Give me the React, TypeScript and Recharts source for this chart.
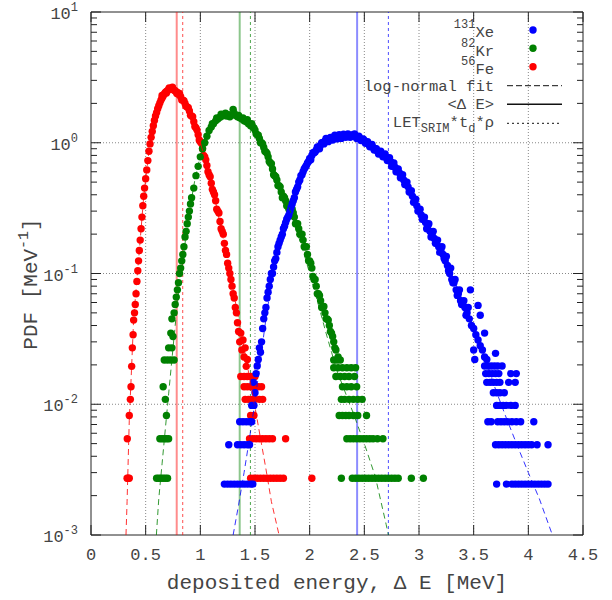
import { ScatterChart, Scatter, XAxis, YAxis, ReferenceLine, ReferenceArea } from "recharts";

// ---- data (deposited energy in MeV, PDF in 1/MeV) ----

const xTicks = [0, 0.5, 1, 1.5, 2, 2.5, 3, 3.5, 4, 4.5];
const xGrid = [0.5, 1, 1.5, 2, 2.5, 3, 3.5, 4];
const yMajor = [0.001, 0.01, 0.1, 1, 10];
const yGrid = [0.01, 0.1, 1];
const yMinorSteps = [2, 3, 4, 5, 6, 7, 8, 9];

// <ΔE> and LET_SRIM*t_d*rho per ion: Fe, Kr, Xe
const meanE = [0.784, 1.36, 2.434];
const letE = [0.839, 1.458, 2.72];

const feBody: [number, number][] = [
  [0.35, 0.0082], [0.36, 0.0109], [0.366, 0.0136], [0.372, 0.0195], [0.378, 0.027], [0.385, 0.034],
  [0.39, 0.044], [0.398, 0.05], [0.405, 0.058], [0.412, 0.07], [0.42, 0.087], [0.428, 0.105],
  [0.435, 0.125], [0.442, 0.15], [0.45, 0.18], [0.458, 0.22], [0.466, 0.27], [0.474, 0.33],
  [0.482, 0.39], [0.49, 0.45], [0.5, 0.53], [0.51, 0.62], [0.52, 0.73], [0.53, 0.86], [0.54, 0.98],
  [0.55, 1.1], [0.56, 1.22], [0.57, 1.35], [0.58, 1.48], [0.59, 1.6], [0.6, 1.7], [0.61, 1.82],
  [0.62, 1.92], [0.63, 2.02], [0.64, 2.12], [0.65, 2.2], [0.66, 2.28], [0.67, 2.36], [0.68, 2.42],
  [0.69, 2.47], [0.7, 2.5], [0.71, 2.55], [0.72, 2.58], [0.73, 2.56], [0.74, 2.6], [0.75, 2.55],
  [0.76, 2.52], [0.77, 2.5], [0.78, 2.45], [0.79, 2.42], [0.8, 2.35], [0.82, 2.25], [0.84, 2.12],
  [0.86, 2.0], [0.88, 1.88], [0.9, 1.75], [0.92, 1.6], [0.94, 1.45], [0.96, 1.3], [0.98, 1.15],
  [1.0, 1.02], [1.02, 0.9], [1.04, 0.78], [1.06, 0.67], [1.08, 0.57], [1.1, 0.49], [1.12, 0.42],
  [1.14, 0.36], [1.16, 0.3], [1.18, 0.25], [1.2, 0.21], [1.22, 0.17], [1.24, 0.14], [1.25, 0.12],
  [1.26, 0.11], [1.27, 0.1], [1.28, 0.09], [1.29, 0.08], [1.3, 0.07], [1.31, 0.065], [1.32, 0.055],
  [1.33, 0.05], [1.34, 0.042], [1.35, 0.036], [1.36, 0.03], [1.37, 0.035], [1.38, 0.026],
  [1.39, 0.031], [1.4, 0.023], [1.41, 0.027], [1.42, 0.0195], [1.43, 0.022],
];

// scattered bins lying next to the main band
const feSpread: [number, number][] = [
  [0.65, 2.3], [0.69, 2.4], [0.715, 2.62], [0.745, 2.66], [0.785, 2.38], [0.81, 2.38], [0.83, 2.12],
  [0.85, 2.1], [0.87, 1.9], [0.89, 1.85], [0.91, 1.62], [0.93, 1.58], [0.95, 1.33], [0.97, 1.25],
  [0.99, 1.05], [1.01, 0.99], [1.03, 0.8], [1.05, 0.74], [1.07, 0.6], [1.09, 0.55], [1.11, 0.44],
  [1.13, 0.4], [1.15, 0.31], [1.17, 0.29], [1.19, 0.22], [1.21, 0.2], [1.23, 0.15],
];

// low-count bins sit on discrete levels
const feRows = [
  { y: 0.0163, e: [1.37, 1.4, 1.43, 1.46, 1.5] },
  { y: 0.0136, e: [1.4, 1.43, 1.46, 1.5, 1.53, 1.56] },
  { y: 0.0109, e: [1.41, 1.44, 1.47, 1.5, 1.54, 1.57] },
  { y: 0.0082, e: [1.46, 1.49] },
  { y: 0.00544, e: [0.332, 1.45, 1.48, 1.51, 1.54, 1.57, 1.6, 1.63, 1.66, 1.78] },
  { y: 0.00272, e: [0.33, 0.34, 0.35, 1.46, 1.49, 1.52, 1.55, 1.58, 1.61, 1.64, 1.67, 1.7, 1.73, 1.76, 2.02] },
];

const feFit: [number, number][] = [
  [0.32, 0.001], [0.33, 0.0018], [0.35, 0.0075], [0.37, 0.018], [0.39, 0.045], [0.42, 0.09],
  [0.45, 0.18], [0.48, 0.37], [0.51, 0.62], [0.54, 1.0], [0.58, 1.5], [0.62, 2.0], [0.66, 2.35],
  [0.7, 2.55], [0.74, 2.6], [0.78, 2.5], [0.82, 2.3], [0.86, 2.05], [0.9, 1.8], [0.95, 1.4],
  [1.0, 1.0], [1.05, 0.72], [1.1, 0.5], [1.15, 0.32], [1.2, 0.2], [1.25, 0.13], [1.3, 0.075],
  [1.35, 0.045], [1.4, 0.027], [1.45, 0.016], [1.5, 0.0095], [1.55, 0.0055], [1.6, 0.0032],
  [1.65, 0.0018], [1.72, 0.001],
];

const krBody: [number, number][] = [
  [0.71, 0.027], [0.74, 0.027], [0.73, 0.035], [0.75, 0.033], [0.74, 0.045], [0.76, 0.05],
  [0.77, 0.058], [0.78, 0.066], [0.79, 0.075], [0.8, 0.085], [0.81, 0.1], [0.82, 0.11],
  [0.83, 0.125], [0.84, 0.14], [0.85, 0.16], [0.86, 0.19], [0.87, 0.21], [0.88, 0.24],
  [0.89, 0.27], [0.9, 0.3], [0.91, 0.34], [0.92, 0.38], [0.94, 0.45], [0.96, 0.56], [0.98, 0.66],
  [1.0, 0.78], [1.02, 0.9], [1.04, 1.0], [1.06, 1.12], [1.08, 1.24], [1.1, 1.32], [1.12, 1.4],
  [1.14, 1.47], [1.16, 1.52], [1.18, 1.57], [1.2, 1.6], [1.22, 1.62], [1.24, 1.6], [1.26, 1.64],
  [1.28, 1.62], [1.3, 1.8], [1.32, 1.62], [1.34, 1.58], [1.36, 1.55], [1.38, 1.52], [1.4, 1.47],
  [1.42, 1.45], [1.44, 1.4], [1.46, 1.35], [1.48, 1.32], [1.5, 1.25], [1.52, 1.15], [1.54, 1.08],
  [1.56, 1.0], [1.58, 0.92], [1.6, 0.85], [1.62, 0.78], [1.64, 0.7], [1.66, 0.63], [1.68, 0.56],
  [1.7, 0.52], [1.72, 0.47], [1.74, 0.42], [1.76, 0.39], [1.78, 0.36], [1.8, 0.34], [1.82, 0.33],
  [1.84, 0.31], [1.86, 0.27], [1.88, 0.24], [1.9, 0.22], [1.92, 0.2], [1.94, 0.18], [1.96, 0.16],
  [1.98, 0.14], [2.0, 0.125], [2.02, 0.11], [2.04, 0.09], [2.06, 0.08], [2.08, 0.07], [2.1, 0.062],
  [2.12, 0.056], [2.14, 0.05], [2.16, 0.045], [2.18, 0.04], [2.2, 0.035], [2.22, 0.03],
  [2.24, 0.026], [2.26, 0.023],
];

const krSpread: [number, number][] = [
  [1.11, 1.4], [1.15, 1.55], [1.19, 1.65], [1.23, 1.68], [1.27, 1.58], [1.31, 1.68], [1.35, 1.62],
  [1.39, 1.55], [1.43, 1.5], [1.47, 1.4], [1.49, 1.3], [1.51, 1.17], [1.53, 1.14], [1.55, 1.0],
  [1.57, 0.98], [1.59, 0.86], [1.61, 0.83], [1.63, 0.72], [1.65, 0.69], [1.67, 0.57], [1.69, 0.55],
  [1.71, 0.47], [1.73, 0.46], [1.75, 0.38], [1.77, 0.38], [1.79, 0.33], [1.81, 0.31], [1.83, 0.3],
  [1.85, 0.29], [1.87, 0.24], [1.89, 0.24], [1.91, 0.2], [1.93, 0.2], [1.95, 0.16], [1.97, 0.16],
  [1.99, 0.125], [2.01, 0.12], [2.03, 0.095], [2.05, 0.09], [2.07, 0.07], [2.09, 0.068],
  [2.11, 0.055], [2.13, 0.056], [2.15, 0.045], [2.17, 0.044], [2.19, 0.036], [2.21, 0.033],
  [2.23, 0.027],
];

const krRows = [
  { y: 0.0218, e: [0.67, 0.7, 0.73, 0.76, 2.22, 2.25, 2.28] },
  { y: 0.019, e: [2.22, 2.26, 2.3, 2.34, 2.38, 2.42] },
  { y: 0.0163, e: [2.24, 2.28, 2.32, 2.36, 2.41] },
  { y: 0.0136, e: [0.66, 2.3, 2.34, 2.38, 2.43] },
  { y: 0.0109, e: [0.68, 2.29, 2.32, 2.36, 2.4, 2.44, 2.48] },
  { y: 0.0082, e: [0.69, 2.27, 2.3, 2.33, 2.36, 2.4, 2.44, 2.52] },
  { y: 0.00544, e: [0.63, 0.65, 0.67, 0.69, 0.71, 2.34, 2.37, 2.4, 2.43, 2.46, 2.49, 2.52, 2.55, 2.58, 2.62, 2.67] },
  { y: 0.00272, e: [0.6, 0.62, 0.64, 0.66, 0.68, 0.7, 2.29, 2.39, 2.42, 2.45, 2.48, 2.51, 2.54, 2.57, 2.6, 2.63, 2.66, 2.69, 2.72, 2.75, 2.78, 2.81, 2.93, 3.04] },
];

const krFit: [number, number][] = [
  [0.598, 0.001], [0.62, 0.0019], [0.65, 0.0035], [0.68, 0.0065], [0.71, 0.012], [0.74, 0.022],
  [0.77, 0.04], [0.8, 0.07], [0.83, 0.11], [0.86, 0.17], [0.9, 0.3], [0.95, 0.52], [1.0, 0.8],
  [1.05, 1.08], [1.1, 1.3], [1.15, 1.48], [1.2, 1.58], [1.25, 1.62], [1.3, 1.62], [1.35, 1.57],
  [1.4, 1.48], [1.45, 1.35], [1.5, 1.2], [1.55, 1.04], [1.6, 0.87], [1.65, 0.71], [1.7, 0.57],
  [1.75, 0.44], [1.8, 0.34], [1.85, 0.26], [1.9, 0.19], [1.95, 0.14], [2.0, 0.1], [2.05, 0.071],
  [2.1, 0.05], [2.15, 0.035], [2.2, 0.025], [2.25, 0.018], [2.3, 0.014], [2.4, 0.0085],
  [2.5, 0.005], [2.6, 0.0028], [2.7, 0.0012], [2.72, 0.001],
];

const xeBody: [number, number][] = [
  [1.53, 0.022], [1.54, 0.027], [1.55, 0.025], [1.56, 0.03], [1.57, 0.038], [1.58, 0.045],
  [1.59, 0.05], [1.6, 0.055], [1.61, 0.065], [1.62, 0.072], [1.63, 0.08], [1.64, 0.09],
  [1.66, 0.1], [1.67, 0.112], [1.68, 0.125], [1.7, 0.145], [1.72, 0.17], [1.74, 0.19],
  [1.76, 0.22], [1.78, 0.245], [1.8, 0.27], [1.82, 0.3], [1.84, 0.34], [1.86, 0.38], [1.88, 0.44],
  [1.9, 0.5], [1.92, 0.56], [1.94, 0.6], [1.96, 0.65], [1.98, 0.7], [2.0, 0.76], [2.02, 0.8],
  [2.04, 0.84], [2.06, 0.88], [2.08, 0.92], [2.1, 0.96], [2.12, 1.0], [2.14, 1.03], [2.16, 1.06],
  [2.18, 1.06], [2.2, 1.08], [2.22, 1.1], [2.24, 1.1], [2.26, 1.12], [2.28, 1.1], [2.3, 1.13],
  [2.32, 1.12], [2.34, 1.15], [2.36, 1.13], [2.38, 1.14], [2.4, 1.15], [2.42, 1.12], [2.44, 1.1],
  [2.46, 1.08], [2.48, 1.06], [2.5, 1.04], [2.52, 1.0], [2.54, 0.97], [2.56, 0.94], [2.58, 0.92],
  [2.6, 0.9], [2.62, 0.86], [2.64, 0.84], [2.66, 0.82], [2.68, 0.8], [2.7, 0.77], [2.72, 0.74],
  [2.74, 0.72], [2.76, 0.68], [2.78, 0.65], [2.8, 0.62], [2.82, 0.59], [2.84, 0.56], [2.86, 0.52],
  [2.88, 0.5], [2.9, 0.46], [2.92, 0.42], [2.94, 0.39], [2.96, 0.36], [2.98, 0.33], [3.0, 0.3],
  [3.02, 0.28], [3.04, 0.26], [3.06, 0.245], [3.08, 0.23], [3.1, 0.21], [3.12, 0.2], [3.14, 0.185],
  [3.16, 0.17], [3.18, 0.16], [3.2, 0.15], [3.22, 0.14], [3.24, 0.125], [3.26, 0.115], [3.28, 0.1],
  [3.3, 0.09], [3.32, 0.085], [3.34, 0.075], [3.36, 0.07], [3.38, 0.062], [3.4, 0.058],
  [3.42, 0.055], [3.44, 0.05], [3.46, 0.045], [3.48, 0.04], [3.5, 0.038], [3.52, 0.034],
  [3.54, 0.031], [3.56, 0.028], [3.58, 0.026], [3.6, 0.023], [3.62, 0.022], [3.47, 0.075],
  [3.54, 0.057], [3.56, 0.048], [3.6, 0.035], [3.5, 0.026], [3.51, 0.022], [3.7, 0.0245],
];

const xeSpread: [number, number][] = [
  [1.65, 0.1], [1.69, 0.13], [1.71, 0.16], [1.73, 0.18], [1.75, 0.2], [1.77, 0.23], [1.79, 0.26],
  [1.81, 0.28], [1.83, 0.32], [1.85, 0.36], [1.87, 0.42], [1.89, 0.46], [1.91, 0.52], [1.93, 0.57],
  [1.95, 0.63], [1.97, 0.67], [1.99, 0.72], [2.01, 0.74], [2.03, 0.84], [2.05, 0.85], [2.07, 0.93],
  [2.09, 0.9], [2.11, 1.0], [2.13, 0.98], [2.15, 1.08], [2.17, 1.02], [2.19, 1.1], [2.21, 1.05],
  [2.23, 1.14], [2.25, 1.07], [2.27, 1.15], [2.29, 1.08], [2.31, 1.16], [2.33, 1.1], [2.35, 1.17],
  [2.37, 1.1], [2.39, 1.12], [2.41, 1.17], [2.43, 1.08], [2.45, 1.12], [2.47, 1.04], [2.49, 1.07],
  [2.51, 0.99], [2.53, 1.02], [2.55, 0.93], [2.57, 0.97], [2.59, 0.88], [2.61, 0.9], [2.63, 0.82],
  [2.65, 0.86], [2.67, 0.78], [2.69, 0.82], [2.71, 0.73], [2.73, 0.77], [2.75, 0.66], [2.77, 0.7],
  [2.79, 0.6], [2.81, 0.63], [2.83, 0.54], [2.85, 0.57], [2.87, 0.48], [2.89, 0.5], [2.91, 0.42],
  [2.93, 0.43], [2.95, 0.35], [2.97, 0.37], [2.99, 0.3], [3.01, 0.31], [3.03, 0.26], [3.05, 0.27],
  [3.07, 0.22], [3.09, 0.24], [3.11, 0.19], [3.13, 0.21], [3.15, 0.17], [3.17, 0.18], [3.19, 0.145],
  [3.21, 0.16], [3.23, 0.13], [3.25, 0.135], [3.27, 0.105], [3.29, 0.11], [3.31, 0.085],
  [3.33, 0.09], [3.35, 0.068], [3.37, 0.075], [3.39, 0.058], [3.41, 0.062], [3.43, 0.048],
  [3.45, 0.055],
];

const xeRows = [
  { y: 0.0196, e: [1.52, 3.6, 3.63, 3.66, 3.69, 3.72, 3.76] },
  { y: 0.01715, e: [1.51, 3.61, 3.64, 3.67, 3.7, 3.73, 3.84, 3.89] },
  { y: 0.0147, e: [1.485, 3.62, 3.65, 3.68, 3.71, 3.74, 3.82, 3.88] },
  { y: 0.01225, e: [1.5, 3.68, 3.71, 3.74, 3.78] },
  { y: 0.0098, e: [1.47, 1.49, 3.71, 3.74, 3.77, 3.8, 3.84, 3.88] },
  { y: 0.00735, e: [1.36, 1.39, 1.42, 1.45, 1.47, 3.63, 3.66, 3.72, 3.75, 3.78, 3.81, 3.85, 3.89, 3.93, 4.05] },
  { y: 0.0049, e: [1.26, 1.34, 1.37, 1.4, 1.43, 1.45, 3.7, 3.73, 3.76, 3.79, 3.82, 3.85, 3.88, 3.91, 3.94, 3.97, 4.0, 4.03, 4.08, 4.18] },
  { y: 0.00245, e: [1.22, 1.25, 1.28, 1.31, 1.34, 1.37, 1.4, 1.43, 1.46, 1.48, 3.71, 3.8, 3.85, 3.88, 3.91, 3.94, 3.97, 4.0, 4.03, 4.06, 4.09, 4.12, 4.15, 4.18] },
];

const xeFit: [number, number][] = [
  [1.3, 0.001], [1.35, 0.0017], [1.4, 0.003], [1.45, 0.0055], [1.5, 0.0105], [1.55, 0.022],
  [1.6, 0.045], [1.65, 0.085], [1.7, 0.14], [1.75, 0.2], [1.8, 0.27], [1.85, 0.36], [1.9, 0.48],
  [1.95, 0.6], [2.0, 0.72], [2.1, 0.92], [2.2, 1.05], [2.3, 1.1], [2.4, 1.1], [2.5, 1.03],
  [2.6, 0.92], [2.7, 0.76], [2.8, 0.6], [2.9, 0.45], [3.0, 0.32], [3.1, 0.22], [3.2, 0.15],
  [3.3, 0.098], [3.4, 0.062], [3.5, 0.039], [3.6, 0.023], [3.7, 0.013], [3.8, 0.0078],
  [3.9, 0.0048], [4.0, 0.003], [4.1, 0.0019], [4.22, 0.001],
];

// ---- layout ----

const W = 612;
const H = 600;
const LEFT = 91;
const RIGHT = 583;
const TOP = 12;
const BOTTOM = 535;
const FONT = "'Liberation Mono', 'Courier New', monospace";
const TXT = "#444";
const RED = "#ff0000";
const GREEN = "#008000";
const BLUE = "#0000ff";
const colors = [RED, GREEN, BLUE];

const yMinor = yMajor.slice(0, -1).flatMap((d) => yMinorSteps.map((m) => +(d * m).toPrecision(3)));
const yTicks = [...yMajor, ...yMinor].sort((a, b) => a - b);

const pts = (a: [number, number][]) => a.map(([x, y]) => ({ x, y }));
const rowPts = (rows: { y: number; e: number[] }[]) => rows.flatMap((r) => r.e.map((x) => ({ x, y: r.y })));

const dot = (color: string) => (p: any) => <circle cx={p.cx} cy={p.cy} r={3.7} fill={color} />;
const noDot = () => <g />;

const XTick = ({ x, payload }: any) => (
  <g>
    <line x1={x} x2={x} y1={BOTTOM} y2={BOTTOM - 10} stroke="#222" />
    <line x1={x} x2={x} y1={TOP} y2={TOP + 10} stroke="#222" />
    <text x={x} y={560} textAnchor="middle" fontFamily={FONT} fontSize={17} fill={TXT}>
      {payload.value}
    </text>
  </g>
);

const YTick = ({ y, payload }: any) => {
  const lg = Math.log10(payload.value);
  const exp = Math.round(lg);
  const major = Math.abs(lg - exp) < 1e-6;
  const len = major ? 10 : 6;
  return (
    <g>
      <line x1={LEFT} x2={LEFT + len} y1={y} y2={y} stroke="#222" />
      <line x1={RIGHT} x2={RIGHT - len} y1={y} y2={y} stroke="#222" />
      {major && (
        <text x={78} y={y + 7} textAnchor="end" fontFamily={FONT} fontSize={17} fill={TXT}>
          10
          <tspan dy={-8} fontSize={12}>{exp}</tspan>
        </text>
      )}
    </g>
  );
};

function Overlay() {
  const keyX = 494;
  return (
    <svg width={W} height={H} style={{ position: "absolute", left: 0, top: 0, pointerEvents: "none" }}>
      <g fontFamily={FONT} fontSize={15.5} fill={TXT}>
        <text x={keyX} y={37} textAnchor="end">
          <tspan fontSize={12} dy={-9}>131</tspan>
          <tspan dy={9}>Xe</tspan>
        </text>
        <text x={keyX} y={55.5} textAnchor="end">
          <tspan fontSize={12} dy={-9}>82</tspan>
          <tspan dy={9}>Kr</tspan>
        </text>
        <text x={keyX} y={73.5} textAnchor="end">
          <tspan fontSize={12} dy={-9}>56</tspan>
          <tspan dy={9}>Fe</tspan>
        </text>
        <text x={keyX} y={91.2} textAnchor="end">log-normal fit</text>
        <text x={keyX} y={108.8} textAnchor="end">{"<Δ E>"}</text>
        <text x={keyX} y={126.5} textAnchor="end">
          LET
          <tspan fontSize={12} dy={5}>SRIM</tspan>
          <tspan dy={-5}>*t</tspan>
          <tspan fontSize={12} dy={5}>d</tspan>
          <tspan dy={-5}>*ρ</tspan>
        </text>
      </g>
      <circle cx={533} cy={30} r={3.7} fill={BLUE} />
      <circle cx={533} cy={48.3} r={3.7} fill={GREEN} />
      <circle cx={533} cy={66.7} r={3.7} fill={RED} />
      <line x1={507} x2={562} y1={85.7} y2={85.7} stroke="#111" strokeDasharray="6 3" />
      <line x1={507} x2={562} y1={104.3} y2={104.3} stroke="#111" strokeWidth={1.5} />
      <line x1={507} x2={562} y1={123.3} y2={123.3} stroke="#111" strokeDasharray="2 3" />
      <text x={(LEFT + RIGHT) / 2} y={589} textAnchor="middle" fontFamily={FONT} fontSize={21} fill={TXT}>
        deposited energy, Δ E [MeV]
      </text>
      <text
        transform="translate(37 284) rotate(-90)"
        textAnchor="middle"
        fontFamily={FONT}
        fontSize={21}
        fill={TXT}
      >
        PDF [MeV
        <tspan fontSize={15} dy={-9}>-1</tspan>
        <tspan dy={9}>]</tspan>
      </text>
    </svg>
  );
}

export default function App() {
  const bodies = [feBody, krBody, xeBody];
  const spreads = [feSpread, krSpread, xeSpread];
  const rows = [feRows, krRows, xeRows];
  const fits = [feFit, krFit, xeFit];
  return (
    <div style={{ position: "absolute", left: 0, top: 0, width: W, height: H, background: "#fff" }}>
      <ScatterChart width={W} height={H} margin={{ top: TOP, right: W - RIGHT, bottom: 0, left: 0 }}>
        <XAxis
          type="number"
          dataKey="x"
          domain={[0, 4.5]}
          ticks={xTicks}
          interval={0}
          axisLine={false}
          tickLine={false}
          height={H - BOTTOM}
          tick={<XTick />}
          allowDataOverflow
        />
        <YAxis
          type="number"
          dataKey="y"
          scale="log"
          domain={[0.001, 10]}
          ticks={yTicks}
          interval={0}
          axisLine={false}
          tickLine={false}
          width={LEFT}
          tick={<YTick />}
          allowDataOverflow
        />
        {xGrid.map((v) => (
          <ReferenceLine key={"gx" + v} x={v} stroke="#888" strokeDasharray="1 2" />
        ))}
        {yGrid.map((v) => (
          <ReferenceLine key={"gy" + v} y={v} stroke="#888" strokeDasharray="1 2" />
        ))}
        {meanE.map((v, i) => (
          <ReferenceLine key={"m" + i} x={v} stroke={colors[i]} strokeOpacity={0.45} strokeWidth={2} />
        ))}
        {letE.map((v, i) => (
          <ReferenceLine key={"l" + i} x={v} stroke={colors[i]} strokeOpacity={0.7} strokeDasharray="3 3" />
        ))}
        {bodies.map((b, i) => (
          <Scatter
            key={"d" + i}
            data={[...pts(b), ...pts(spreads[i]), ...rowPts(rows[i])]}
            fill={colors[i]}
            shape={dot(colors[i])}
            isAnimationActive={false}
          />
        ))}
        {fits.map((f, i) => (
          <Scatter
            key={"f" + i}
            data={pts(f)}
            fill={colors[i]}
            shape={noDot}
            line={{ stroke: colors[i], strokeWidth: 1, strokeDasharray: "6 4", strokeOpacity: 0.8 }}
            isAnimationActive={false}
          />
        ))}
        <ReferenceArea x1={0} x2={4.5} y1={0.001} y2={10} fill="none" stroke="#222" ifOverflow="visible" />
      </ScatterChart>
      <Overlay />
    </div>
  );
}
